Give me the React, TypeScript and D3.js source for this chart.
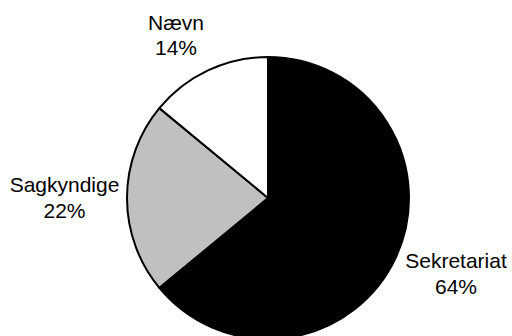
import React from "react";
import * as d3 from "d3";

const categories = ["Sekretariat", "Sagkyndige", "Nævn"];
const values = [64, 22, 14];
const percentLabels = ["64%", "22%", "14%"];
const colors = ["#000000", "#c0c0c0", "#ffffff"];

const W = 512, H = 336;
const cx = 268, cy = 198, R = 141;
const labelPos = [
  { x: 456, y: 268 },
  { x: 64.5, y: 192 },
  { x: 176, y: 29.5 },
];

export default function App() {
  const pie = d3.pie<number>().sort(null).value((d) => d)(values);
  const arc = d3.arc<d3.PieArcDatum<number>>().innerRadius(0).outerRadius(R);
  return (
    <svg width={W} height={H} style={{ position: "absolute", left: 0, top: 0 }}>
      <rect width={W} height={H} fill="#fff" />
      <g transform={`translate(${cx},${cy})`}>
        {pie.map((p, i) => (
          <path key={i} d={arc(p) || ""} fill={colors[i]} stroke="#000" strokeWidth={2} strokeLinejoin="round" />
        ))}
      </g>
      {categories.map((c, i) => (
        <text key={c} x={labelPos[i].x} y={labelPos[i].y} textAnchor="middle" fontFamily="Liberation Sans, Arial, sans-serif" fontSize={21} fill="#000">
          <tspan x={labelPos[i].x}>{c}</tspan>
          <tspan x={labelPos[i].x} dy={25.5}>{percentLabels[i]}</tspan>
        </text>
      ))}
    </svg>
  );
}
